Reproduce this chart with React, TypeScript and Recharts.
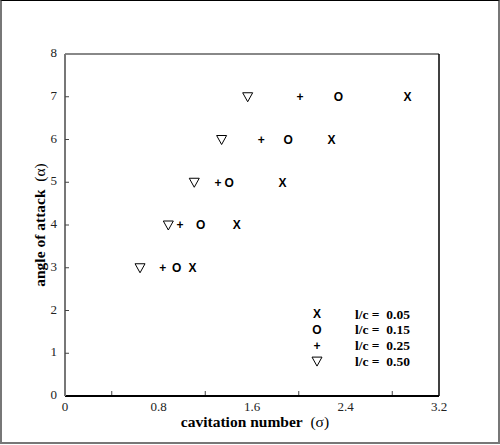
import React from "react";
import {
  ScatterChart,
  Scatter,
  XAxis,
  YAxis,
  ReferenceLine,
  Legend,
} from "recharts";

// angle of attack rows and the cavitation number read for each l/c
const angles = [3, 4, 5, 6, 7];
const sigma005 = [1.09, 1.47, 1.86, 2.28, 2.93];
const sigma015 = [0.955, 1.16, 1.405, 1.91, 2.34];
const sigma025 = [0.836, 0.984, 1.31, 1.68, 2.01];
const sigma050 = [0.642, 0.884, 1.106, 1.34, 1.563];

const xTicks = [0, 0.4, 0.8, 1.2, 1.6, 2.0, 2.4, 2.8, 3.2];
const yTicks = [0, 1, 2, 3, 4, 5, 6, 7, 8];

type GlyphKind = "x" | "o" | "plus" | "tri";

const series: { name: string; kind: GlyphKind; sigma: number[] }[] = [
  { name: "l/c =  0.05", kind: "x", sigma: sigma005 },
  { name: "l/c =  0.15", kind: "o", sigma: sigma015 },
  { name: "l/c =  0.25", kind: "plus", sigma: sigma025 },
  { name: "l/c =  0.50", kind: "tri", sigma: sigma050 },
];

const SERIF = "'Liberation Serif', 'Times New Roman', serif";
const SANS = "'Liberation Sans', Arial, sans-serif";

const Glyph = ({ kind, cx, cy }: { kind: GlyphKind; cx: number; cy: number }) => {
  if (kind === "tri") {
    return (
      <polygon
        points={`${cx - 5},${cy - 4} ${cx + 5},${cy - 4} ${cx},${cy + 5}`}
        fill="#fff"
        stroke="#000"
        strokeWidth={1}
      />
    );
  }
  const ch = kind === "x" ? "X" : kind === "o" ? "O" : "+";
  return (
    <text
      x={cx}
      y={cy + 4.3}
      textAnchor="middle"
      fontFamily={SANS}
      fontWeight="bold"
      fontSize={12}
      fill="#000"
    >
      {ch}
    </text>
  );
};

const XTick = (props: any) => {
  const { x, y, payload } = props;
  const v = payload.value;
  const major = Math.round(v / 0.4) % 2 === 0;
  if (major) {
    return (
      <text x={x} y={y + 15} textAnchor="middle" fontFamily={SERIF} fontSize={13} fill="#222">
        {Number(v.toFixed(1)) === 0 ? "0" : v.toFixed(1)}
      </text>
    );
  }
  return <line x1={x} y1={y - 1} x2={x} y2={y - 5} stroke="#444" strokeWidth={1} />;
};

const YTick = (props: any) => {
  const { x, y, payload } = props;
  const v = payload.value;
  return (
    <g>
      {v !== 0 && v !== 8 && (
        <line x1={x} y1={y} x2={x + 4} y2={y} stroke="#444" strokeWidth={1} />
      )}
      <text x={x - 8} y={y + 3} textAnchor="end" fontFamily={SERIF} fontSize={13} fill="#222">
        {v}
      </text>
    </g>
  );
};

const XTitle = (props: any) => {
  const { x, y, width } = props.viewBox;
  return (
    <text x={x + width / 2 + 3} y={y + 31} textAnchor="middle" fontFamily={SERIF} fontSize={15.5} fill="#000">
      <tspan fontWeight="bold">cavitation number</tspan>
      <tspan>{"\u00a0\u00a0(σ)"}</tspan>
    </text>
  );
};

const YTitle = (props: any) => {
  const { y, height } = props.viewBox;
  const cx = 45;
  const cy = y + height / 2;
  return (
    <text
      x={cx}
      y={cy}
      transform={`rotate(-90 ${cx} ${cy})`}
      textAnchor="middle"
      fontFamily={SERIF}
      fontSize={15.5}
      fill="#000"
    >
      <tspan fontWeight="bold">angle of attack</tspan>
      <tspan>{"\u00a0\u00a0(α)"}</tspan>
    </text>
  );
};

const LegendBox = () => (
  <svg width={130} height={66}>
    {series.map((s, i) => {
      const cy = 9 + i * 15.7;
      return (
        <g key={s.name}>
          <Glyph kind={s.kind} cx={12} cy={cy} />
          <text x={50} y={cy + 4.5} fontFamily={SERIF} fontWeight="bold" fontSize={13.5} fill="#000">
            {s.name.replace("  ", "\u00a0\u00a0")}
          </text>
        </g>
      );
    })}
  </svg>
);

export default function App() {
  return (
    <div style={{ position: "absolute", left: 0, top: 0, width: 500, height: 445, background: "#fff" }}>
      <ScatterChart width={500} height={445} margin={{ top: 54, right: 61, bottom: 0, left: 0 }}>
        <XAxis
          type="number"
          dataKey="sigma"
          domain={[0, 3.2]}
          ticks={xTicks}
          interval={0}
          height={49}
          tickSize={0}
          tickMargin={0}
          tickLine={false}
          tick={<XTick />}
          axisLine={{ stroke: "#000", strokeWidth: 2 }}
          label={{ content: <XTitle /> }}
        />
        <YAxis
          type="number"
          dataKey="aoa"
          domain={[0, 8]}
          ticks={yTicks}
          interval={0}
          width={65}
          tickSize={0}
          tickMargin={0}
          tickLine={false}
          tick={<YTick />}
          axisLine={{ stroke: "#777", strokeWidth: 2 }}
          label={{ content: <YTitle /> }}
        />
        <ReferenceLine y={8} stroke="#888" strokeWidth={2} />
        <ReferenceLine x={3.2} stroke="#000" strokeWidth={1.5} />
        {series.map((s) => (
          <Scatter
            key={s.name}
            name={s.name}
            data={angles.map((a, i) => ({ sigma: s.sigma[i], aoa: a }))}
            isAnimationActive={false}
            shape={(p: any) => <Glyph kind={s.kind} cx={p.cx} cy={p.cy} />}
          />
        ))}
        <Legend
          layout="vertical"
          verticalAlign="middle"
          align="center"
          content={<LegendBox />}
          wrapperStyle={{ left: 305, top: 305, width: 130, height: 66 }}
        />
      </ScatterChart>
      <div
        style={{
          position: "absolute",
          left: 0,
          top: 0,
          width: 500,
          height: 444,
          boxSizing: "border-box",
          borderTop: "1px solid #000",
          borderLeft: "2px solid #777",
          borderRight: "2px solid #777",
          borderBottom: "2px solid #777",
          pointerEvents: "none",
        }}
      />
    </div>
  );
}
